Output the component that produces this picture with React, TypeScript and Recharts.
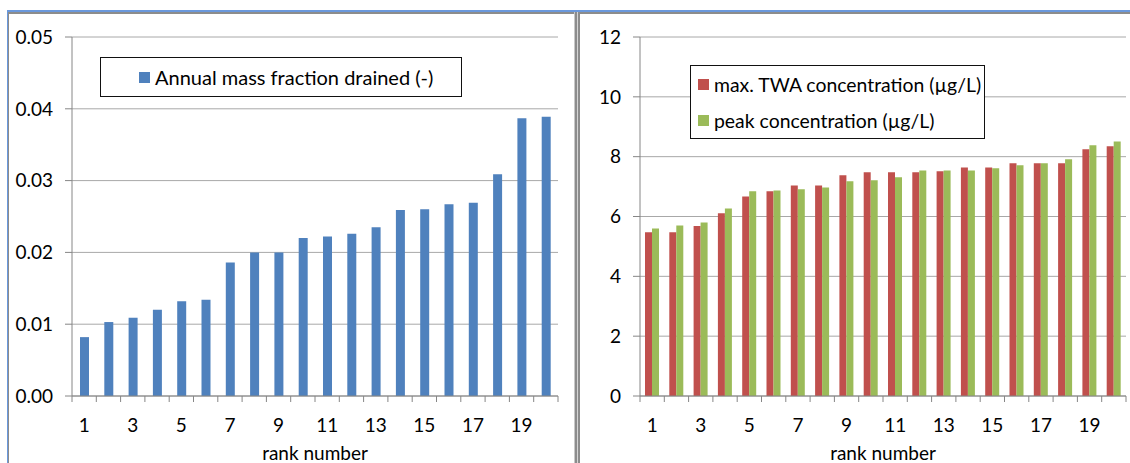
import React from "react"
import { BarChart, Bar, XAxis, YAxis, CartesianGrid } from "recharts"

// rank numbers 1..20
const ranks = [1, 2, 3, 4, 5, 6, 7, 8, 9, 10, 11, 12, 13, 14, 15, 16, 17, 18, 19, 20]

const massFraction = [
  0.0082, 0.0103, 0.0109, 0.012, 0.0132, 0.0134, 0.0186, 0.02, 0.02, 0.022,
  0.0222, 0.0226, 0.0235, 0.0259, 0.026, 0.0267, 0.0269, 0.0309, 0.0387, 0.0389,
]

const twaConc = [
  5.47, 5.47, 5.68, 6.11, 6.67, 6.84, 7.04, 7.04, 7.38, 7.48,
  7.48, 7.48, 7.51, 7.64, 7.64, 7.78, 7.78, 7.78, 8.25, 8.35,
]

const peakConc = [
  5.6, 5.7, 5.8, 6.27, 6.84, 6.87, 6.91, 6.97, 7.18, 7.21,
  7.31, 7.54, 7.54, 7.54, 7.61, 7.71, 7.78, 7.91, 8.38, 8.51,
]

const leftTicks = [0, 0.01, 0.02, 0.03, 0.04, 0.05]
const rightTicks = [0, 2, 4, 6, 8, 10, 12]

const BLUE = "#4F81BD"
const RED = "#C0504D"
const GREEN = "#9BBB59"
const AXIS = "#868686"
const GRID = "#a8a8a8"
const FONT = "Lato, 'Open Sans', sans-serif"

const leftData = ranks.map((r, i) => ({ rank: r, mass: massFraction[i] }))
const rightData = ranks.map((r, i) => ({ rank: r, twa: twaConc[i], peak: peakConc[i] }))

// Excel-style category axis: tick marks on band edges, label every other category
function makeRankTick(band: number) {
  return (props: any) => {
    const { x, y, payload, index } = props
    const half = band / 2
    const last = index === ranks.length - 1
    return (
      <g>
        <line x1={x - half} y1={y} x2={x - half} y2={y + 6} stroke={AXIS} />
        {last && <line x1={x + half} y1={y} x2={x + half} y2={y + 6} stroke={AXIS} />}
        {index % 2 === 0 && (
          <text x={x} y={y + 28} textAnchor="middle" dominantBaseline="central" fill="#000" fontSize={19} fontFamily={FONT}>
            {payload.value}
          </text>
        )}
      </g>
    )
  }
}

function LegendBox({ items, style, fontSize }: { items: { name: string; color: string }[]; style: React.CSSProperties; fontSize: number }) {
  return (
    <div
      style={{
        position: "absolute",
        background: "#fff",
        border: "1px solid #111",
        boxSizing: "border-box",
        display: "flex",
        flexDirection: "column",
        justifyContent: "space-around",
        ...style,
      }}
    >
      {items.map((it) => (
        <div key={it.name} style={{ display: "flex", alignItems: "center", whiteSpace: "nowrap" }}>
          <div style={{ width: 11, height: 11, flexShrink: 0, background: it.color, marginRight: 5 }} />
          <span style={{ fontSize, color: "#000", fontFamily: FONT }}>{it.name}</span>
        </div>
      ))}
    </div>
  )
}

export default function App() {
  const leftBand = (574 - 72 - 16) / 20
  const rightBand = (550 - 60 - 4) / 20
  return (
    <div style={{ position: "fixed", left: 0, top: 0, width: 1130, height: 463, background: "#fff", overflow: "hidden", fontFamily: FONT }}>
      {/* left chart */}
      <div style={{ position: "absolute", left: 0, top: 0 }}>
        <BarChart width={574} height={463} data={leftData} margin={{ top: 37, right: 16, left: 0, bottom: 0 }}>
          <CartesianGrid vertical={false} stroke={GRID} />
          <XAxis
            dataKey="rank"
            interval={0}
            height={67}
            tickSize={0}
            tickMargin={0}
            tickLine={false}
            axisLine={{ stroke: AXIS }}
            tick={makeRankTick(leftBand)}
            label={{ value: "rank number", position: "insideBottom", offset: 3, fill: "#000", fontSize: 19, fontFamily: FONT }}
          />
          <YAxis
            width={72}
            domain={[0, 0.05]}
            ticks={leftTicks}
            tickFormatter={(v: number) => v.toFixed(2)}
            tickSize={7}
            tickMargin={12}
            tickLine={{ stroke: AXIS }}
            axisLine={{ stroke: AXIS }}
            tick={{ fill: "#000", fontSize: 19, fontFamily: FONT }}
          />
          <Bar dataKey="mass" fill={BLUE} barSize={9} isAnimationActive={false} />
        </BarChart>
      </div>

      {/* right chart */}
      <div style={{ position: "absolute", left: 580, top: 0 }}>
        <BarChart width={550} height={463} data={rightData} margin={{ top: 37, right: 4, left: 0, bottom: 0 }} barGap={0}>
          <CartesianGrid vertical={false} stroke={GRID} />
          <XAxis
            dataKey="rank"
            interval={0}
            height={67}
            tickSize={0}
            tickMargin={0}
            tickLine={false}
            axisLine={{ stroke: AXIS }}
            tick={makeRankTick(rightBand)}
            label={{ value: "rank number", position: "insideBottom", offset: 3, fill: "#000", fontSize: 19, fontFamily: FONT }}
          />
          <YAxis
            width={60}
            domain={[0, 12]}
            ticks={rightTicks}
            tickSize={7}
            tickMargin={12}
            tickLine={{ stroke: AXIS }}
            axisLine={{ stroke: AXIS }}
            tick={{ fill: "#000", fontSize: 19, fontFamily: FONT }}
          />
          <Bar dataKey="twa" fill={RED} barSize={7} isAnimationActive={false} />
          <Bar dataKey="peak" fill={GREEN} barSize={7} isAnimationActive={false} />
        </BarChart>
      </div>

      <LegendBox
        items={[{ name: "Annual mass fraction drained (-)", color: BLUE }]}
        style={{ left: 100, top: 57, width: 362, height: 40, paddingLeft: 38 }}
        fontSize={20}
      />
      <LegendBox
        items={[
          { name: "max. TWA concentration (µg/L)", color: RED },
          { name: "peak concentration (µg/L)", color: GREEN },
        ]}
        style={{ left: 690, top: 65, width: 295, height: 74, paddingLeft: 7 }}
        fontSize={19.4}
      />

      {/* window frame lines */}
      <div style={{ position: "absolute", left: 7, top: 10, width: 1123, height: 2, background: "#6a98dc" }} />
      <div style={{ position: "absolute", left: 8, top: 12, width: 1122, height: 2, background: "#8c8c8c" }} />
      <div style={{ position: "absolute", left: 7, top: 10, width: 1, height: 453, background: "#6a98dc" }} />
      <div style={{ position: "absolute", left: 8, top: 12, width: 1, height: 451, background: "#8c8c8c" }} />
      <div style={{ position: "absolute", left: 574, top: 12, width: 1, height: 451, background: "#c8c8c8" }} />
      <div style={{ position: "absolute", left: 575, top: 12, width: 2, height: 451, background: "#8c8c8c" }} />
      <div style={{ position: "absolute", left: 577, top: 12, width: 1, height: 451, background: "#d4d4d4" }} />
      <div style={{ position: "absolute", left: 578, top: 12, width: 2, height: 451, background: "#8c8c8c" }} />
    </div>
  )
}
